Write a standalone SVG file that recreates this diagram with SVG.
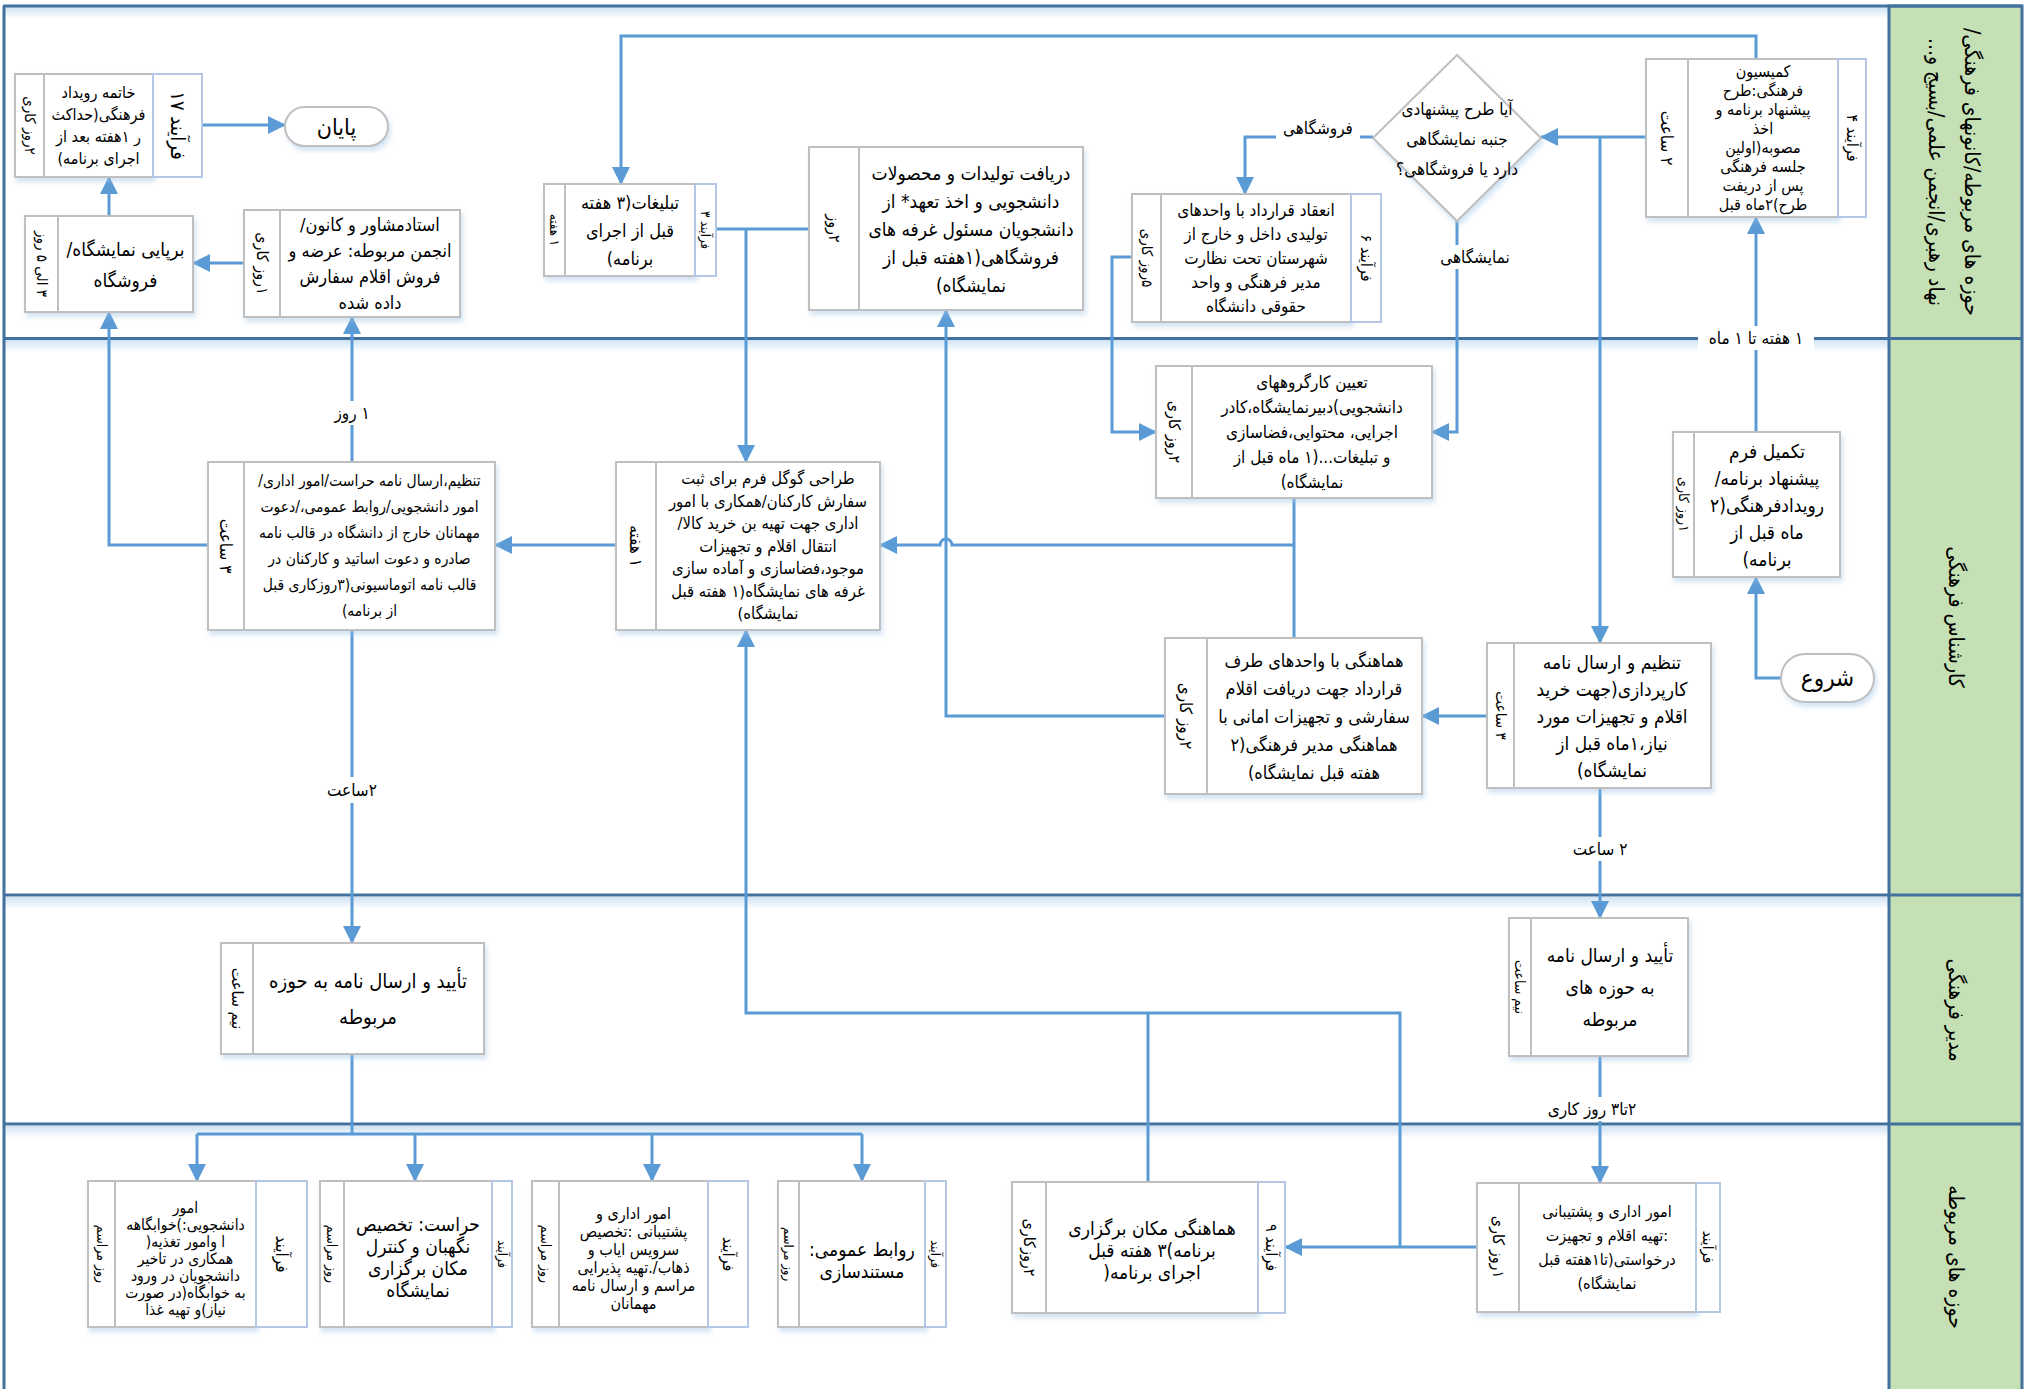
<svg xmlns="http://www.w3.org/2000/svg" width="2026" height="1389" viewBox="0 0 2026 1389">
<defs>
<style>
text{font-family:"DejaVu Sans Condensed","DejaVu Sans",sans-serif;fill:#000;direction:rtl;text-anchor:middle;dominant-baseline:central}
.box{fill:#fff;stroke:#BFBFBF;stroke-width:2}
.dv{stroke:#BFBFBF;stroke-width:2}
.pc{fill:#fff;stroke:#B4C7E7;stroke-width:2}
.c{fill:none;stroke:#5B9BD5;stroke-width:3}
.a{marker-end:url(#ah)}
.lane{stroke:#41719C;stroke-width:3;fill:none}
.lb{fill:#fff}
.lab{font-size:17px}
.hd{font-size:21px}
</style>
<marker id="ah" viewBox="0 0 18 18" refX="17" refY="9" markerWidth="18" markerHeight="18" markerUnits="userSpaceOnUse" orient="auto">
<path d="M0,0 L18,9 L0,18 z" fill="#5B9BD5"/>
</marker>
<filter id="sh" x="-10%" y="-10%" width="130%" height="130%">
<feDropShadow dx="2" dy="4" stdDeviation="2.5" flood-color="#9DC3E6" flood-opacity="0.45"/>
</filter>
<linearGradient id="lg" x1="0" y1="0" x2="0" y2="1">
<stop offset="0" stop-color="#BDD7EE" stop-opacity="0.7"/>
<stop offset="1" stop-color="#BDD7EE" stop-opacity="0"/>
</linearGradient>
</defs>
<rect x="0" y="0" width="2026" height="1389" fill="#fff"/>

<g id="lanes">
<rect x="4" y="7" width="1885" height="12" fill="url(#lg)"/>
<rect x="4" y="340" width="1885" height="12" fill="url(#lg)"/>
<rect x="4" y="897" width="1885" height="12" fill="url(#lg)"/>
<rect x="4" y="1126" width="1885" height="12" fill="url(#lg)"/>
<rect x="1889" y="6" width="133" height="1390" fill="#C5E0B4" stroke="#41719C" stroke-width="3"/>
<line class="lane" x1="3" y1="6" x2="2022" y2="6"/>
<line class="lane" x1="4" y1="6" x2="4" y2="1389"/>
<line class="lane" x1="4" y1="338.5" x2="2022" y2="338.5"/>
<line class="lane" x1="4" y1="895" x2="2022" y2="895"/>
<line class="lane" x1="4" y1="1124" x2="2022" y2="1124"/>
<text class="hd" transform="translate(1972,172) rotate(90)" font-size="20">حوزه های مربوطه/کانونهای فرهنگی/</text>
<text class="hd" transform="translate(1936,172) rotate(90)" font-size="20">نهاد رهبری/انجمن علمی/بسیج و...</text>
<text class="hd" transform="translate(1956,617) rotate(90)" font-size="22">کارشناس فرهنگی</text>
<text class="hd" transform="translate(1956,1010) rotate(90)" font-size="22">مدیر فرهنگی</text>
<text class="hd" transform="translate(1956,1257) rotate(90)" font-size="22">حوزه های مربوطه</text>
</g>

<g id="connectors">
<path class="c a" d="M202,125 H285"/>
<path class="c a" d="M109,216 V177"/>
<path class="c a" d="M244,263 H193"/>
<path class="c a" d="M352,462 V317"/>
<path class="c a" d="M208,545 H109 V312"/>
<path class="c a" d="M616,545 H495"/>
<path class="c a" d="M1756,59 V36 H621 V184"/>
<path class="c" d="M716,229 H809"/>
<path class="c a" d="M746,229 V462"/>
<path class="c a" d="M1646,137 H1541"/>
<path class="c a" d="M1600,137 V643"/>
<path class="c a" d="M1373,137 H1245 V194"/>
<path class="c a" d="M1457,221 V432 H1432"/>
<path class="c a" d="M1132,257 H1112 V432 H1156"/>
<path class="c" d="M1294,498 V638"/>
<path class="c a" d="M1294,545 H952 A6,6 0 0 0 940,545 H880"/>
<path class="c a" d="M1165,716 H946 V310"/>
<path class="c a" d="M1487,716 H1422"/>
<path class="c a" d="M1756,432 V217"/>
<path class="c a" d="M1781,678 H1756 V577"/>
<path class="c a" d="M1600,788 V918"/>
<path class="c a" d="M1600,1056 V1183"/>
<path class="c a" d="M352,630 V943"/>
<path class="c" d="M352,1054 V1134"/>
<path class="c" d="M197,1134 H862"/>
<path class="c a" d="M197,1134 V1181"/>
<path class="c a" d="M415,1134 V1181"/>
<path class="c a" d="M652,1134 V1181"/>
<path class="c a" d="M862,1134 V1181"/>
<path class="c a" d="M1477,1247 H1285"/>
<path class="c a" d="M1400,1247 V1013 H746 V630"/>
<path class="c" d="M1148,1013 V1182"/>
<rect class="lb" x="1276" y="117" width="84" height="24"/>
<text class="lab" x="1318" y="128">فروشگاهی</text>
<rect class="lb" x="1431" y="245" width="88" height="24"/>
<text class="lab" x="1475" y="257">نمایشگاهی</text>
<rect class="lb" x="1698" y="326" width="116" height="24"/>
<text class="lab" x="1756" y="338">۱ هفته تا ۱ ماه</text>
<rect class="lb" x="328" y="401" width="48" height="24"/>
<text class="lab" x="352" y="413">۱ روز</text>
<rect class="lb" x="320" y="777" width="64" height="26"/>
<text class="lab" x="352" y="790" font-size="19">۲ساعت</text>
<rect class="lb" x="1568" y="837" width="64" height="24"/>
<text class="lab" x="1600" y="849">۲ ساعت</text>
<rect class="lb" x="1536" y="1097" width="112" height="24"/>
<text class="lab" x="1592" y="1109">۲تا۳ روز کاری</text>
</g>

<g id="n-end">
<rect class="box" filter="url(#sh)" x="285" y="107" width="103" height="39" rx="19.5"/>
<text x="336.5" y="126.5" font-size="23">پایان</text>
</g>

<g id="n-17">
<rect class="box" filter="url(#sh)" x="15" y="74" width="138" height="103"/>
<line class="dv" x1="44" y1="74" x2="44" y2="177"/>
<rect class="pc" x="153" y="74" width="49" height="103"/>
<g font-size="16"><text x="98.5" y="92.5">خاتمه رویداد</text><text x="98.5" y="114.5">فرهنگی(حداکث</text><text x="98.5" y="136.5">ر ۱هفته بعد از</text><text x="98.5" y="158.5">اجرای برنامه)</text></g>
<text transform="translate(29.5,125.5) rotate(90)" font-size="15">۲روز کاری</text>
<text transform="translate(177.5,125.5) rotate(90)" font-size="20">فرآیند ۱۷</text>
</g>

<g id="n-booth">
<rect class="box" filter="url(#sh)" x="25" y="216" width="168" height="96"/>
<line class="dv" x1="58" y1="216" x2="58" y2="312"/>
<g font-size="19"><text x="125.5" y="249">برپایی نمایشگاه/</text><text x="125.5" y="280">فروشگاه</text></g>
<text transform="translate(41.5,264) rotate(90)" font-size="15">۳ الی ۵ روز</text>
</g>

<g id="n-sale">
<rect class="box" filter="url(#sh)" x="244" y="210" width="216" height="107"/>
<line class="dv" x1="280" y1="210" x2="280" y2="317"/>
<g font-size="18"><text x="370" y="224.5">استادمشاور و کانون/</text><text x="370" y="250.5">انجمن مربوطه: عرضه و</text><text x="370" y="276.5">فروش اقلام سفارش</text><text x="370" y="302.5">داده شده</text></g>
<text transform="translate(262,263.5) rotate(90)" font-size="16">۱روز کاری</text>
</g>

<g id="n-3">
<rect class="box" filter="url(#sh)" x="544" y="184" width="151" height="92"/>
<line class="dv" x1="565" y1="184" x2="565" y2="276"/>
<rect class="pc" x="695" y="184" width="21" height="92"/>
<g font-size="18"><text x="630" y="202">تبلیغات(۳ هفته</text><text x="630" y="230">قبل از اجرای</text><text x="630" y="258">برنامه)</text></g>
<text transform="translate(554.5,230) rotate(90)" font-size="13">۱ هفته</text>
<text transform="translate(705.5,230) rotate(90)" font-size="13">فرآیند ۳</text>
</g>

<g id="n-products">
<rect class="box" filter="url(#sh)" x="809" y="147" width="274" height="163"/>
<line class="dv" x1="859" y1="147" x2="859" y2="310"/>
<g font-size="19"><text x="971" y="172.5">دریافت تولیدات و محصولات</text><text x="971" y="200.5">دانشجویی و اخذ تعهد* از</text><text x="971" y="228.5">دانشجویان مسئول غرفه های</text><text x="971" y="256.5">فروشگاهی(۱هفته قبل از</text><text x="971" y="284.5">نمایشگاه)</text></g>
<text transform="translate(834,228.5) rotate(90)" font-size="16">۲روز</text>
</g>

<g id="n-6">
<rect class="box" filter="url(#sh)" x="1132" y="194" width="219" height="128"/>
<line class="dv" x1="1161" y1="194" x2="1161" y2="322"/>
<rect class="pc" x="1351" y="194" width="30" height="128"/>
<g font-size="17"><text x="1256" y="210">انعقاد قرارداد با واحدهای</text><text x="1256" y="234">تولیدی داخل و خارج از</text><text x="1256" y="258">شهرستان تحت نظارت</text><text x="1256" y="282">مدیر فرهنگی و واحد</text><text x="1256" y="306">حقوقی دانشگاه</text></g>
<text transform="translate(1146.5,258) rotate(90)" font-size="15">۵روز کاری</text>
<text transform="translate(1366,258) rotate(90)" font-size="16">فرآیند ۶</text>
</g>

<g id="n-decision">
<polygon points="1457,55 1541,138 1457,221 1373,138" fill="#fff" stroke="#BFBFBF" stroke-width="2" filter="url(#sh)"/>
<g font-size="17"><text x="1457" y="109">آیا طرح پیشنهادی</text><text x="1457" y="139">جنبه نمایشگاهی</text><text x="1457" y="169">دارد یا فروشگاهی؟</text></g>
</g>

<g id="n-4">
<rect class="box" filter="url(#sh)" x="1646" y="59" width="192" height="158"/>
<line class="dv" x1="1688" y1="59" x2="1688" y2="217"/>
<rect class="pc" x="1838" y="59" width="28" height="158"/>
<g font-size="16"><text x="1763" y="71.5">کمیسیون</text><text x="1763" y="90.5">فرهنگی:طرح</text><text x="1763" y="109.5">پیشنهاد برنامه و</text><text x="1763" y="128.5">اخذ</text><text x="1763" y="147.5">مصوبه(اولین</text><text x="1763" y="166.5">جلسه فرهنگی</text><text x="1763" y="185.5">پس از دریفت</text><text x="1763" y="204.5">طرح)۲ماه قبل</text></g>
<text transform="translate(1667,138) rotate(90)" font-size="17">۲ ساعت</text>
<text transform="translate(1852,138) rotate(90)" font-size="16">فرآیند ۴</text>
</g>

<g id="n-groups">
<rect class="box" filter="url(#sh)" x="1156" y="366" width="276" height="132"/>
<line class="dv" x1="1192" y1="366" x2="1192" y2="498"/>
<g font-size="17"><text x="1312" y="382">تعیین کارگروههای</text><text x="1312" y="407">دانشجویی)دبیرنمایشگاه،کادر</text><text x="1312" y="432">اجرایی، محتوایی،فضاسازی</text><text x="1312" y="457">و تبلیغات...(۱ ماه قبل از</text><text x="1312" y="482">نمایشگاه)</text></g>
<text transform="translate(1174,432) rotate(90)" font-size="16">۲روز کاری</text>
</g>

<g id="n-form">
<rect class="box" filter="url(#sh)" x="616" y="462" width="264" height="168"/>
<line class="dv" x1="656" y1="462" x2="656" y2="630"/>
<g font-size="16.5"><text x="768" y="478.5">طراحی گوگل فرم برای ثبت</text><text x="768" y="501">سفارش کارکنان/همکاری با امور</text><text x="768" y="523.5">اداری جهت تهیه بن خرید کالا/</text><text x="768" y="546">انتقال اقلام و تجهیزات</text><text x="768" y="568.5">موجود،فضاسازی و آماده سازی</text><text x="768" y="591">غرفه های نمایشگاه(۱ هفته قبل</text><text x="768" y="613.5">نمایشگاه)</text></g>
<text transform="translate(636,546) rotate(90)" font-size="17">۱ هفته</text>
</g>

<g id="n-letters">
<rect class="box" filter="url(#sh)" x="208" y="462" width="287" height="168"/>
<line class="dv" x1="244" y1="462" x2="244" y2="630"/>
<g font-size="15.5"><text x="369.5" y="481">تنظیم،ارسال نامه حراست/امور اداری/</text><text x="369.5" y="507">امور دانشجویی/روابط عمومی،/دعوت</text><text x="369.5" y="533">مهمانان خارج از دانشگاه در قالب نامه</text><text x="369.5" y="559">صادره و دعوت اساتید و کارکنان در</text><text x="369.5" y="585">قالب نامه اتوماسیونی(۳روزکاری قبل</text><text x="369.5" y="611">از برنامه)</text></g>
<text transform="translate(226,546) rotate(90)" font-size="17">۳ ساعت</text>
</g>

<g id="n-proposal">
<rect class="box" filter="url(#sh)" x="1673" y="432" width="167" height="145"/>
<line class="dv" x1="1694" y1="432" x2="1694" y2="577"/>
<g font-size="19"><text x="1767" y="450.5">تکمیل فرم</text><text x="1767" y="477.5">پیشنهاد برنامه/</text><text x="1767" y="504.5">رویدادفرهنگی(۲</text><text x="1767" y="531.5">ماه قبل از</text><text x="1767" y="558.5">برنامه)</text></g>
<text transform="translate(1683.5,504.5) rotate(90)" font-size="14">۱روز کاری</text>
</g>

<g id="n-start">
<rect class="box" filter="url(#sh)" x="1781" y="654" width="93" height="48" rx="24"/>
<text x="1827.5" y="678" font-size="24">شروع</text>
</g>

<g id="n-procurement">
<rect class="box" filter="url(#sh)" x="1487" y="643" width="224" height="145"/>
<line class="dv" x1="1514" y1="643" x2="1514" y2="788"/>
<g font-size="19"><text x="1612" y="661.5">تنظیم و ارسال نامه</text><text x="1612" y="688.5">کارپردازی(جهت خرید</text><text x="1612" y="715.5">اقلام و تجهیزات مورد</text><text x="1612" y="742.5">نیاز،۱ماه قبل از</text><text x="1612" y="769.5">نمایشگاه)</text></g>
<text transform="translate(1500.5,715.5) rotate(90)" font-size="15">۳ ساعت</text>
</g>

<g id="n-coord">
<rect class="box" filter="url(#sh)" x="1165" y="638" width="257" height="156"/>
<line class="dv" x1="1207" y1="638" x2="1207" y2="794"/>
<g font-size="18"><text x="1314" y="660">هماهنگی با واحدهای طرف</text><text x="1314" y="688">قرارداد جهت دریافت اقلام</text><text x="1314" y="716">سفارشی و تجهیزات امانی با</text><text x="1314" y="744">هماهنگی مدیر فرهنگی(۲</text><text x="1314" y="772">هفته قبل نمایشگاه)</text></g>
<text transform="translate(1186,716) rotate(90)" font-size="17">۲روز کاری</text>
</g>

<g id="n-approve1">
<rect class="box" filter="url(#sh)" x="221" y="943" width="263" height="111"/>
<line class="dv" x1="253" y1="943" x2="253" y2="1054"/>
<g font-size="20"><text x="368" y="980.5">تأیید و ارسال نامه به حوزه</text><text x="368" y="1016.5">مربوطه</text></g>
<text transform="translate(237,998.5) rotate(90)" font-size="16">نیم ساعت</text>
</g>

<g id="n-approve2">
<rect class="box" filter="url(#sh)" x="1509" y="918" width="179" height="138"/>
<line class="dv" x1="1531" y1="918" x2="1531" y2="1056"/>
<g font-size="19"><text x="1610" y="955">تأیید و ارسال نامه</text><text x="1610" y="987">به حوزه های</text><text x="1610" y="1019">مربوطه</text></g>
<text transform="translate(1520,987) rotate(90)" font-size="14">نیم ساعت</text>
</g>

<g id="n-support">
<rect class="box" filter="url(#sh)" x="1477" y="1183" width="219" height="129"/>
<line class="dv" x1="1519" y1="1183" x2="1519" y2="1312"/>
<rect class="pc" x="1696" y="1183" width="24" height="129"/>
<g font-size="16"><text x="1607" y="1211">امور اداری و پشتیبانی</text><text x="1607" y="1235">:تهیه اقلام و تجهیزت</text><text x="1607" y="1259">درخواستی(تا۱هفته قبل</text><text x="1607" y="1283">نمایشگاه)</text></g>
<text transform="translate(1498,1247) rotate(90)" font-size="16">۱روز کاری</text>
<text transform="translate(1708,1247) rotate(90)" font-size="15">فرآیند</text>
</g>

<g id="n-9">
<rect class="box" filter="url(#sh)" x="1012" y="1182" width="246" height="131"/>
<line class="dv" x1="1046" y1="1182" x2="1046" y2="1313"/>
<rect class="pc" x="1258" y="1182" width="27" height="131"/>
<g font-size="19"><text x="1152" y="1228">هماهنگی مکان برگزاری</text><text x="1152" y="1250">برنامه)۳ هفته قبل</text><text x="1152" y="1272">اجرای برنامه(</text></g>
<text transform="translate(1029,1247.5) rotate(90)" font-size="16">۲روزکاری</text>
<text transform="translate(1271.5,1247.5) rotate(90)" font-size="16">فرآیند ۹</text>
</g>

<g id="n-students">
<rect class="box" filter="url(#sh)" x="88" y="1181" width="168" height="146"/>
<line class="dv" x1="115" y1="1181" x2="115" y2="1327"/>
<rect class="pc" x="256" y="1181" width="51" height="146"/>
<g font-size="15.5"><text x="185.5" y="1208">امور</text><text x="185.5" y="1225">دانشجویی:)خوابگاهه</text><text x="185.5" y="1242">ا وامور تغذیه(</text><text x="185.5" y="1259">همکاری در تاخیر</text><text x="185.5" y="1276">دانشجویان در ورود</text><text x="185.5" y="1293">به خوابگاه(در صورت</text><text x="185.5" y="1310">نیاز)و تهیه غذا</text></g>
<text transform="translate(101.5,1254) rotate(90)" font-size="14">روز مراسم</text>
<text transform="translate(281.5,1254) rotate(90)" font-size="17">فرآیند</text>
</g>

<g id="n-security">
<rect class="box" filter="url(#sh)" x="320" y="1181" width="172" height="146"/>
<line class="dv" x1="344" y1="1181" x2="344" y2="1327"/>
<rect class="pc" x="492" y="1181" width="20" height="146"/>
<g font-size="19"><text x="418" y="1224">حراست: تخصیص</text><text x="418" y="1246">نگهبان و کنترل</text><text x="418" y="1268">مکان برگزاری</text><text x="418" y="1290">نمایشگاه</text></g>
<text transform="translate(332,1254) rotate(90)" font-size="14">روز مراسم</text>
<text transform="translate(502,1254) rotate(90)" font-size="13">فرآیند</text>
</g>

<g id="n-admin">
<rect class="box" filter="url(#sh)" x="532" y="1181" width="176" height="146"/>
<line class="dv" x1="559" y1="1181" x2="559" y2="1327"/>
<rect class="pc" x="708" y="1181" width="40" height="146"/>
<g font-size="16"><text x="633.5" y="1213">امور اداری و</text><text x="633.5" y="1231">پشتیبانی :تخصیص</text><text x="633.5" y="1249">سرویس ایاب و</text><text x="633.5" y="1267">ذهاب/.تهیه پذیرایی</text><text x="633.5" y="1285">مراسم و ارسال نامه</text><text x="633.5" y="1303">مهمانان</text></g>
<text transform="translate(545.5,1254) rotate(90)" font-size="14">روز مراسم</text>
<text transform="translate(728,1254) rotate(90)" font-size="16">فرآیند</text>
</g>

<g id="n-pr">
<rect class="box" filter="url(#sh)" x="778" y="1181" width="147" height="146"/>
<line class="dv" x1="799" y1="1181" x2="799" y2="1327"/>
<rect class="pc" x="925" y="1181" width="21" height="146"/>
<g font-size="19"><text x="862" y="1249">روابط عمومی:</text><text x="862" y="1271">مستندسازی</text></g>
<text transform="translate(788.5,1254) rotate(90)" font-size="13">روز مراسم</text>
<text transform="translate(935.5,1254) rotate(90)" font-size="13">فرآیند</text>
</g>
</svg>
